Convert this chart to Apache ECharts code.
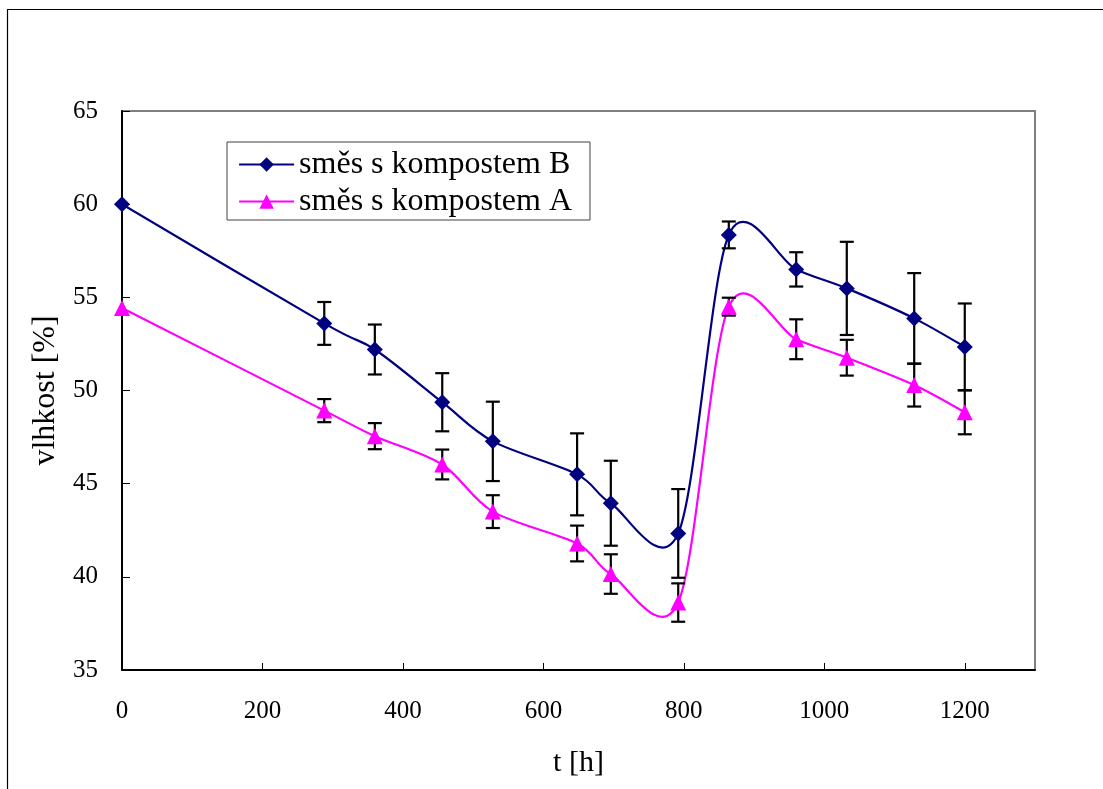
<!DOCTYPE html>
<html>
<head>
<meta charset="utf-8">
<script src="https://cdn.jsdelivr.net/npm/echarts@6/dist/echarts.min.js"></script>
<style>
html,body{margin:0;padding:0;background:#fff;}
#c{width:1103px;height:789px;}
</style>
</head>
<body>
<div id="c"></div>
<script>
// time [h]
var times = [0, 288, 360, 456, 528, 648, 696, 792, 864, 960, 1032, 1128, 1200];
// směs s kompostem B
var seriesB = [60.0, 53.6, 52.2, 49.37, 47.27, 45.5, 43.95, 42.33, 58.35, 56.5, 55.48, 53.87, 52.34];
var errB    = [0, 1.15, 1.34, 1.56, 2.13, 2.2, 2.28, 2.38, 0.72, 0.92, 2.5, 2.43, 2.33];
// směs s kompostem A
var seriesA = [54.43, 48.92, 47.55, 46.03, 43.5, 41.79, 40.15, 38.62, 54.5, 52.75, 51.76, 50.29, 48.83];
var errA    = [0, 0.62, 0.7, 0.8, 0.88, 0.96, 1.06, 1.03, 0.48, 1.07, 0.96, 1.15, 1.18];
var nameB = 'směs s kompostem B';
var nameA = 'směs s kompostem A';
var xTicks = [0, 200, 400, 600, 800, 1000, 1200];
var yTicks = [35, 40, 45, 50, 55, 60, 65];

var colorB = '#000080';
var colorA = '#FF00FF';

function pairs(xs, ys) { return xs.map(function (x, i) { return [x, ys[i]]; }); }
function errData(xs, ys, es) {
  var out = [];
  xs.forEach(function (x, i) { if (es[i] > 0) out.push([x, ys[i] - es[i], ys[i] + es[i]]); });
  return out;
}
function renderErr(params, api) {
  var lo = api.coord([api.value(0), api.value(1)]);
  var hi = api.coord([api.value(0), api.value(2)]);
  var w = 7;
  var st = { stroke: '#000', lineWidth: 2.2 };
  return {
    type: 'group',
    children: [
      { type: 'line', shape: { x1: lo[0], y1: lo[1], x2: hi[0], y2: hi[1] }, style: st },
      { type: 'line', shape: { x1: lo[0] - w, y1: lo[1], x2: lo[0] + w, y2: lo[1] }, style: st },
      { type: 'line', shape: { x1: hi[0] - w, y1: hi[1], x2: hi[0] + w, y2: hi[1] }, style: st }
    ]
  };
}
// Spreadsheet-style smoothed curve (Catmull-Rom type) through the data points,
// positioned with the chart's own coordinate system (api.coord).
var TENSION = 0.155;
function curveRenderer(xs, ys, color) {
  return function (params, api) {
    if (params.dataIndex !== 0) return { type: 'group', children: [] };
    var p = xs.map(function (x, i) { return api.coord([x, ys[i]]); });
    var n = p.length, kids = [];
    for (var i = 0; i < n - 1; i++) {
      var p0 = p[Math.max(i - 1, 0)], p1 = p[i], p2 = p[i + 1], p3 = p[Math.min(i + 2, n - 1)];
      kids.push({
        type: 'bezierCurve',
        shape: {
          x1: p1[0], y1: p1[1], x2: p2[0], y2: p2[1],
          cpx1: p1[0] + (p2[0] - p0[0]) * TENSION, cpy1: p1[1] + (p2[1] - p0[1]) * TENSION,
          cpx2: p2[0] - (p3[0] - p1[0]) * TENSION, cpy2: p2[1] - (p3[1] - p1[1]) * TENSION
        },
        style: { stroke: color, lineWidth: 2.2, fill: null }
      });
    }
    return { type: 'group', children: kids };
  };
}

var FONT = 'Liberation Serif';
var chart = echarts.init(document.getElementById('c'), null, { renderer: 'canvas' });
chart.setOption({
  animation: false,
  backgroundColor: '#fff',
  graphic: [{
    type: 'rect', silent: true, z: -1,
    shape: { x: 7.5, y: 9.5, width: 1200, height: 900 },
    style: { fill: 'none', stroke: '#000', lineWidth: 1.2 }
  }],
  grid: {
    left: 122, right: 68, top: 111, bottom: 119,
    show: true, borderColor: '#808080', borderWidth: 2, backgroundColor: 'transparent'
  },
  legend: {
    orient: 'vertical',
    left: 227, top: 142,
    padding: [6, 18, 2, 11],
    itemGap: 4,
    itemWidth: 55, itemHeight: 18,
    backgroundColor: '#fff',
    borderColor: '#404040', borderWidth: 1,
    textStyle: { fontFamily: FONT, fontSize: 32, color: '#000', lineHeight: 33 },
    data: [
      { name: nameB, lineStyle: { color: colorB, width: 2.2, opacity: 1 }, itemStyle: { color: colorB } },
      { name: nameA, lineStyle: { color: colorA, width: 2.2, opacity: 1 }, itemStyle: { color: colorA } }
    ]
  },
  xAxis: {
    type: 'value', min: 0, max: 1300, interval: 200,
    name: 't [h]', nameLocation: 'middle', nameGap: 78,
    nameTextStyle: { fontFamily: FONT, fontSize: 30, color: '#000' },
    axisLine: { show: true, lineStyle: { color: '#000', width: 2 } },
    axisTick: { show: true, inside: true, length: 7, lineStyle: { color: '#000', width: 1 } },
    axisLabel: {
      fontFamily: FONT, fontSize: 25, color: '#000', margin: 29,
      showMaxLabel: false,
      formatter: function (v) { return xTicks.indexOf(v) >= 0 ? String(v) : ''; }
    },
    splitLine: { show: false }
  },
  yAxis: {
    type: 'value', min: 35, max: 65, interval: 5,
    name: 'vlhkost [%]', nameLocation: 'middle', nameGap: 60,
    nameTextStyle: { fontFamily: FONT, fontSize: 32, color: '#000' },
    axisLine: { show: true, lineStyle: { color: '#000', width: 2 } },
    axisTick: { show: true, inside: true, length: 8, lineStyle: { color: '#000', width: 1 } },
    axisLabel: {
      fontFamily: FONT, fontSize: 25, color: '#000', margin: 24,
      formatter: function (v) { return yTicks.indexOf(v) >= 0 ? String(v) : ''; }
    },
    splitLine: { show: false }
  },
  series: [
    {
      type: 'custom', name: 'curveA', renderItem: curveRenderer(times, seriesA, colorA), z: 1,
      encode: { x: 0, y: 1 }, data: pairs(times, seriesA), silent: true, clip: true
    },
    {
      type: 'custom', name: 'curveB', renderItem: curveRenderer(times, seriesB, colorB), z: 1,
      encode: { x: 0, y: 1 }, data: pairs(times, seriesB), silent: true, clip: true
    },
    {
      type: 'custom', name: 'errB', renderItem: renderErr, z: 2,
      encode: { x: 0, y: [1, 2] }, data: errData(times, seriesB, errB), silent: true
    },
    {
      type: 'custom', name: 'errA', renderItem: renderErr, z: 2,
      encode: { x: 0, y: [1, 2] }, data: errData(times, seriesA, errA), silent: true
    },
    {
      type: 'line', name: nameB, data: pairs(times, seriesB), z: 4,
      symbol: 'diamond', symbolSize: 16,
      itemStyle: { color: colorB },
      lineStyle: { color: colorB, width: 2.2, opacity: 0 }
    },
    {
      type: 'line', name: nameA, data: pairs(times, seriesA), z: 3,
      symbol: 'triangle', symbolSize: 16,
      itemStyle: { color: colorA },
      lineStyle: { color: colorA, width: 2.2, opacity: 0 }
    }
  ]
});
</script>
</body>
</html>
